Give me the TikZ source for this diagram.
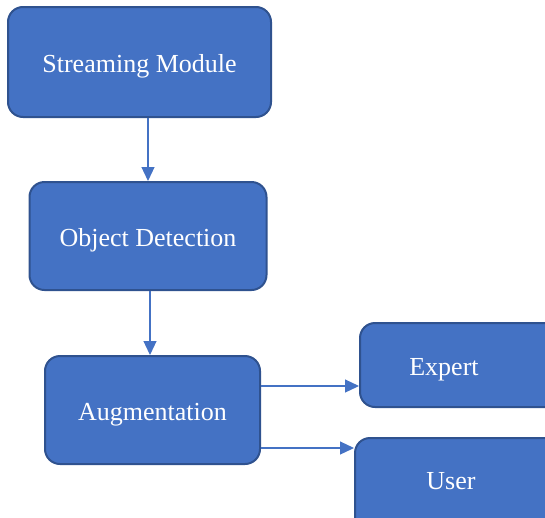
\documentclass[tikz,border=0pt]{standalone}
\usepackage{fontspec}
\setmainfont{Liberation Serif}
\usetikzlibrary{arrows.meta}
\definecolor{boxfill}{HTML}{4472C4}
\definecolor{boxline}{HTML}{2F528F}
\definecolor{arrcol}{HTML}{4472C4}
\tikzset{
  box/.style={draw=boxline, fill=boxfill, line width=2pt, rounded corners=15pt,
    text=white, font=\fontsize{26}{30}\selectfont, inner sep=0pt,
    text height=26pt, text depth=6pt},
  lbl/.style={text=white, font=\fontsize{26}{30}\selectfont, inner sep=0pt, anchor=base},
  arr/.style={draw=arrcol, line width=1.2pt, -{Triangle[width=13pt,length=14pt]}}
}
\begin{document}
\begin{tikzpicture}[x=1pt,y=-1pt]
\useasboundingbox (0,0) rectangle (545,517);
\clip (0,0) rectangle (545,517);
\node[box, minimum width=263pt, minimum height=110pt] (sm) at (139.5,62) {Streaming Module};
\node[box, minimum width=237pt, minimum height=108pt] (od) at (148,236) {Object Detection};
\node[box, minimum width=215pt, minimum height=108pt] (aug) at (152.5,410) {Augmentation};
\node[box, minimum width=210pt, minimum height=84pt] (expert) at (465,365) {};
\node[lbl] (expertlbl) at (444,375) {Expert};
\node[box, minimum width=215pt, minimum height=110pt] (user) at (462.5,493) {};
\node[lbl] (userlbl) at (451,489) {User};
\draw[arr] (sm.south -| od.north) -- (od.north);
\draw[arr] ([xshift=2pt]od.south) -- ([xshift=2pt]od.south |- aug.north);
\coordinate (a1) at ([yshift=24pt]aug.east);
\coordinate (a2) at ([yshift=-38pt]aug.east);
\draw[arr] (a1) -- (a1 -| expert.west);
\draw[arr] (a2) -- (a2 -| user.west);
\end{tikzpicture}
\end{document}
